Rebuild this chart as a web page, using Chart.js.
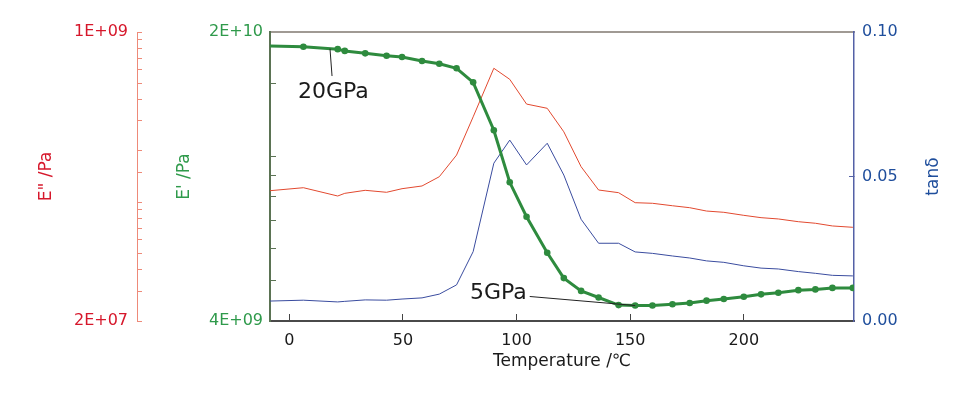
<!DOCTYPE html>
<html>
<head>
<meta charset="utf-8">
<script src="https://cdn.jsdelivr.net/npm/chart.js@4.4.1/dist/chart.umd.min.js"></script>
<style>
  html, body { margin: 0; padding: 0; background: #fff; }
</style>
</head>
<body>
<canvas id="dmaChart" width="971" height="396"></canvas>
<script>
// measurement temperatures (deg C)
const temps = [-8.5, 6.2, 21.3, 24.4, 33.4, 42.8, 49.6, 58.4, 66.0, 73.6, 80.9, 90.0, 97.0, 104.4, 113.5, 120.8,
  128.4, 136.1, 144.9, 152.2, 159.8, 168.6, 176.2, 183.6, 191.2, 200.0, 207.6, 215.2, 224.0, 231.5, 239.0, 248.0];

// storage modulus E' (Pa)
const storageMod = [1.85e10, 1.843e10, 1.818e10, 1.80e10, 1.776e10, 1.752e10, 1.74e10, 1.702e10, 1.676e10, 1.634e10,
  1.511e10, 1.157e10, 8.66e9, 7.15e9, 5.85e9, 5.08e9, 4.73e9, 4.56e9, 4.37e9, 4.36e9, 4.36e9, 4.39e9, 4.42e9,
  4.48e9, 4.52e9, 4.58e9, 4.64e9, 4.68e9, 4.75e9, 4.77e9, 4.81e9, 4.81e9];

// loss modulus E" (Pa)
const lossMod = [1.167e8, 1.215e8, 1.086e8, 1.126e8, 1.173e8, 1.142e8, 1.199e8, 1.244e8, 1.41e8, 1.89e8,
  3.17e8, 6.12e8, 5.27e8, 3.77e8, 3.56e8, 2.59e8, 1.615e8, 1.178e8, 1.136e8, 9.92e7, 9.84e7, 9.52e7, 9.27e7,
  8.86e7, 8.71e7, 8.36e7, 8.10e7, 7.96e7, 7.67e7, 7.51e7, 7.24e7, 7.11e7];

// loss tangent
const tanDelta = [0.0069, 0.0072, 0.0066, 0.0068, 0.0073, 0.0072, 0.0076, 0.0080, 0.0093, 0.0125,
  0.0240, 0.0546, 0.0626, 0.0540, 0.0615, 0.0505, 0.0352, 0.0269, 0.0269, 0.0239, 0.0234, 0.0225, 0.0218,
  0.0208, 0.0203, 0.0191, 0.0183, 0.0180, 0.0171, 0.0165, 0.0158, 0.0156];

// tick labels
const xTicks = [0, 50, 100, 150, 200];
const tanTicks = [0, 0.05, 0.10];

// callouts on the E' curve: [temperature, E']
const callouts = [
  { text: '20GPa', from: [17.9, 1.822e10], to: [18.8, 1.565e10], at: [3.8, 1.432e10], align: 'left' },
  { text: '5GPa', from: [152.2, 4.36e9], to: [105.8, 4.585e9], at: [104.5, 4.676e9], align: 'right' }
];

const FONT = '"DejaVu Sans", "Noto Sans CJK JP", sans-serif';
const RED = '#d6172b', GREEN = '#2f9a4b', BLUE = '#1f4e9c';

function fmtE(v) {
    const parts = v.toExponential(0).split('e');
    const exp = parts[1];
    return parts[0] + 'E' + exp[0] + exp.slice(1).padStart(2, '0');
}

function toXY(ys) {
    return temps.map((t, i) => ({ x: t, y: ys[i] }));
}

// callout text + leader lines, and the right-hand axis title
const extrasPlugin = {
    id: 'extras',
    afterDatasetsDraw(chart) {
        const { ctx, scales } = chart;
        const sx = scales.x, sy = scales.yE;
        ctx.save();
        callouts.forEach(c => {
            ctx.strokeStyle = '#222';
            ctx.lineWidth = 1;
            ctx.beginPath();
            ctx.moveTo(sx.getPixelForValue(c.from[0]), sy.getPixelForValue(c.from[1]));
            ctx.lineTo(sx.getPixelForValue(c.to[0]), sy.getPixelForValue(c.to[1]));
            ctx.stroke();
            ctx.fillStyle = '#1a1a1a';
            ctx.font = '22px ' + FONT;
            ctx.textAlign = c.align;
            ctx.textBaseline = 'middle';
            ctx.fillText(c.text, sx.getPixelForValue(c.at[0]), sy.getPixelForValue(c.at[1]));
        });
        const area = chart.chartArea;
        ctx.translate(934, (area.top + area.bottom) / 2);
        ctx.rotate(-Math.PI / 2);
        ctx.fillStyle = BLUE;
        ctx.font = '17px ' + FONT;
        ctx.textAlign = 'center';
        ctx.textBaseline = 'middle';
        ctx.fillText('tanδ', 0, 0);
        ctx.restore();
    }
};

const ctx = document.getElementById('dmaChart').getContext('2d');
const dmaChart = new Chart(ctx, {
    type: 'line',
    data: {
        datasets: [{
            label: "E'",
            data: toXY(storageMod),
            yAxisID: 'yE',
            borderColor: '#2e8b3e',
            backgroundColor: '#2e8b3e',
            borderWidth: 3,
            pointRadius: temps.map((t, i) => i === 0 ? 0 : 3.3),
            pointBorderWidth: 0,
            order: 0
        }, {
            label: 'E"',
            data: toXY(lossMod),
            yAxisID: 'yE2',
            borderColor: '#e2492f',
            borderWidth: 1,
            pointRadius: 0,
            order: 1
        }, {
            label: 'tan d',
            data: toXY(tanDelta),
            yAxisID: 'yTan',
            borderColor: '#3a4c9f',
            borderWidth: 1,
            pointRadius: 0,
            order: 2
        }]
    },
    options: {
        responsive: false,
        animation: false,
        layout: { padding: { top: 32, left: 0, right: 0, bottom: 0 } },
        plugins: { legend: { display: false }, tooltip: { enabled: false } },
        elements: { line: { tension: 0 } },
        scales: {
            x: {
                type: 'linear',
                position: 'bottom',
                min: -8.5,
                max: 248.5,
                afterBuildTicks: s => { s.ticks = xTicks.map(v => ({ value: v })); },
                afterFit: s => { s.height = 75; },
                grid: { drawOnChartArea: false, tickLength: -7, color: '#444' },
                border: { color: '#4a4a4a', width: 2 },
                ticks: { color: '#1a1a1a', padding: 17, maxRotation: 0, font: { family: FONT, size: 16 } },
                title: {
                    display: true, text: 'Temperature /℃', color: '#1a1a1a',
                    font: { family: FONT, size: 17 }, padding: { bottom: 24 }
                }
            },
            xTop: {
                type: 'linear',
                position: 'top',
                min: -8.5,
                max: 248.5,
                afterFit: s => { s.height = 0; },
                grid: { display: false },
                ticks: { display: false },
                border: { color: '#a09a94', width: 2 }
            },
            yE2: {
                type: 'logarithmic',
                position: 'left',
                weight: 2,
                min: 2e7,
                max: 1e9,
                afterFit: s => { s.width = 137; },
                grid: { drawOnChartArea: false, tickLength: -5, color: '#ee8a79' },
                border: { color: '#ee8a79', width: 1 },
                ticks: {
                    autoSkip: false, color: RED, padding: 14,
                    font: { family: FONT, size: 16 },
                    callback: (v, i, all) => (i === 0 || i === all.length - 1) ? fmtE(v) : ''
                },
                title: {
                    display: true, text: 'E" /Pa', color: RED,
                    font: { family: FONT, size: 17 }, padding: { top: 36 }
                }
            },
            yE: {
                type: 'logarithmic',
                position: 'left',
                weight: 1,
                min: 4e9,
                max: 2e10,
                afterFit: s => { s.width = 133; },
                grid: { drawOnChartArea: false, tickLength: -6, color: '#5b7354' },
                border: { color: '#5b7354', width: 2 },
                ticks: {
                    autoSkip: false, color: GREEN, padding: 13,
                    font: { family: FONT, size: 16 },
                    callback: (v, i, all) => (i === 0 || i === all.length - 1) ? fmtE(v) : ''
                },
                title: {
                    display: true, text: "E' /Pa", color: GREEN,
                    font: { family: FONT, size: 17 }, padding: { top: 37 }
                }
            },
            yTan: {
                type: 'linear',
                position: 'right',
                min: 0,
                max: 0.1,
                afterBuildTicks: s => { s.ticks = tanTicks.map(v => ({ value: v })); },
                afterFit: s => { s.width = 117; },
                grid: { drawOnChartArea: false, tickLength: -5, color: '#5461a6' },
                border: { color: '#5461a6', width: 1.5 },
                ticks: {
                    color: BLUE, padding: 13,
                    font: { family: FONT, size: 16 },
                    callback: v => v.toFixed(2)
                }
            }
        }
    },
    plugins: [extrasPlugin]
});
</script>
</body>
</html>
